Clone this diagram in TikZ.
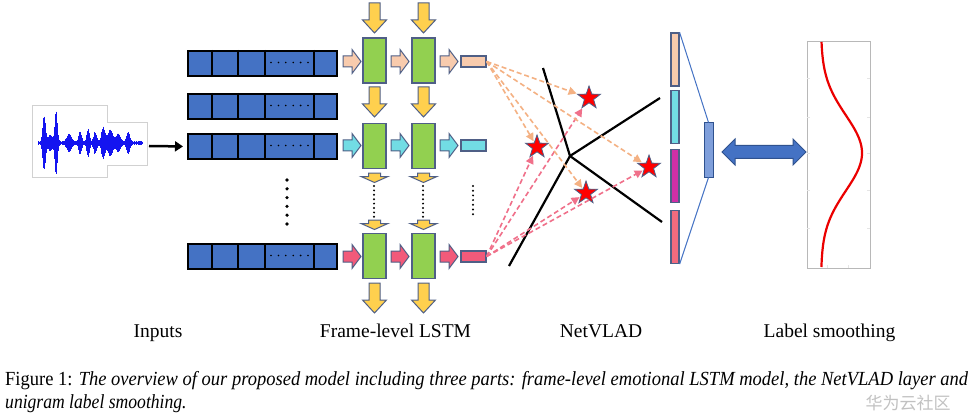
\documentclass[tikz,border=0pt]{standalone}
\usepackage{fontspec}
\setmainfont{Liberation Serif}
\newfontfamily\cjk{Noto Sans CJK SC}
\usepackage{graphicx}
\usetikzlibrary{shapes.geometric,arrows.meta}
\definecolor{cellblue}{HTML}{4472C4}
\definecolor{greenc}{HTML}{92D050}
\definecolor{yel}{HTML}{FFD04E}
\definecolor{outl}{HTML}{4F5F86}
\definecolor{peach}{HTML}{F8CBAD}
\definecolor{peachd}{HTML}{F4B183}
\definecolor{cyanc}{HTML}{72DCE4}
\definecolor{pinkc}{HTML}{F25A7A}
\definecolor{pinkd}{HTML}{F0708A}
\definecolor{magc}{HTML}{D02FA6}
\definecolor{barpink}{HTML}{F26B7E}
\definecolor{wavec}{HTML}{1414F0}
\definecolor{sbarc}{HTML}{7F9FDB}
\definecolor{darkblue}{HTML}{2F528F}
\tikzset{
  gbox/.style={draw=outl, fill=greenc, line width=1.2pt, minimum width=23pt, minimum height=45pt, inner sep=0pt},
  orect/.style={draw=outl, line width=1.2pt, minimum width=25pt, minimum height=11pt, inner sep=0pt},
  blk/.style={draw=outl, line width=1pt, line join=miter},
  starn/.style={star, star points=5, star point ratio=2.5, minimum size=24pt, fill=red, draw=outl, line width=0.8pt, inner sep=0pt},
  dpeach/.style={draw=peachd, dash pattern=on 5pt off 3pt, line width=1.6pt, -{Triangle[length=8pt,width=8pt,fill=peachd]}, shorten >=1pt},
  dpink/.style={draw=pinkd, dash pattern=on 5pt off 3pt, line width=1.6pt, -{Triangle[length=8pt,width=8pt,fill=pinkd]}, shorten >=1pt},
  barn/.style={draw=outl, line width=1.2pt, minimum width=8pt, minimum height=53pt, inner sep=0pt},
  lab/.style={anchor=base, inner sep=0pt, font=\fontsize{19.5}{22}\selectfont},
  declare function={gs(\t,\c,\w)=exp(-min(((\t-\c)/\w)^2,30));}
}
\newcommand{\rarr}[3]{\draw[blk, fill=#1] (#2,#3-5.5) -- ++(9,0) -- ++(0,-6.5) -- ++(9,12) -- ++(-9,12) -- ++(0,-6.5) -- ++(-9,0) -- cycle;}
\newcommand{\darr}[2]{\draw[blk, fill=yel] (#1-5.5,#2) -- (#1+5.5,#2) -- (#1+5.5,#2+17) -- (#1+12,#2+17) -- (#1,#2+30) -- (#1-12,#2+17) -- (#1-5.5,#2+17) -- cycle;}
\newcommand{\sarr}[2]{\draw[blk, fill=yel] (#1-6,#2) -- (#1+6,#2) -- (#1+6,#2+3.5) -- (#1+13.5,#2+3.5) -- (#1,#2+9.5) -- (#1-13.5,#2+3.5) -- (#1-6,#2+3.5) -- cycle;}
\begin{document}
\begin{tikzpicture}[x=1pt,y=-1pt]
\fill[white] (0,0) rectangle (973,414);
\useasboundingbox (0,0) rectangle (973,414);
% waveform
\draw[black!18, line width=0.8pt] (32,105) -- (107,105) -- (107,122) -- (147,122) -- (147,165) -- (107,165) -- (107,177) -- (32,177) -- cycle;
\pgfmathsetseed{7}
\foreach \x in {38,38.5,...,142} {
  \pgfmathsetmacro\a{1.6 + 28*gs(\x,44,1.8) + 30*gs(\x,56,1.7) + 7*gs(\x,50,3.5) + 8*gs(\x,69,3) + 10*gs(\x,80,2) + 14*gs(\x,88,1.8) + 10*gs(\x,95,2.2) + 16*gs(\x,103,2.2) + 12*gs(\x,110,3.8) + 9*gs(\x,118,2.8) + 10*gs(\x,128,2.2)}
  \pgfmathsetmacro\b{\a*(0.8+0.2*rnd)}
  \draw[wavec, line width=0.9pt] (\x,143-\b) -- (\x,143+\b);
}
\coordinate (wv) at (149,146);
% input rows
\foreach \n/\y in {1/50,2/93,3/133,4/243} {
  \node[draw=black, line width=2pt, fill=cellblue, minimum width=149pt, minimum height=25pt, inner sep=0pt, anchor=north west] (in\n) at (187,\y) {};
  \foreach \xx in {212,238,265,314} \draw[line width=2pt] (\xx,\y) -- (\xx,\y+25);
  \foreach \k in {0,...,5} \fill (271+\k*7.4,\y+12.5) circle (0.9pt);
}
\foreach \k in {0,...,5} \fill (287,180+\k*8.8) circle (1.8pt);
\draw[line width=2.5pt, -{Triangle[length=8pt,width=10pt]}, shorten >=4pt] (wv) -- (in3.west);
% LSTM
\foreach \r/\y in {1/60.5,2/146,3/256} {
  \node[gbox] (g1\r) at (374.5,\y) {};
  \node[gbox] (g2\r) at (423.5,\y) {};
}
\node[orect, fill=peach] (o1) at (473.5,61.5) {};
\node[orect, fill=cyanc] (o2) at (473.5,145.5) {};
\node[orect, fill=pinkc] (o3) at (473.5,256.5) {};
\foreach \xs in {343,391,440} {
  \rarr{peach}{\xs}{61.5}
  \rarr{cyanc}{\xs}{145.5}
  \rarr{pinkc}{\xs}{256.5}
}
\foreach \cx in {374.5,423.5} {
  \darr{\cx}{3}
  \darr{\cx}{87}
  \darr{\cx}{283}
  \sarr{\cx}{173}
  \sarr{\cx}{220}
  \foreach \k in {0,...,7} \fill (\cx-0.5,186+\k*4.4) circle (1.1pt);
}
\foreach \k in {0,...,6} \fill (473,186+\k*4.7) circle (1.1pt);
% NetVLAD
\coordinate (c) at (570,156);
\coordinate (l1) at (543,68);
\coordinate (l2) at (660,98);
\coordinate (l3) at (662,222);
\coordinate (l4) at (509,266);
\foreach \l in {l1,l2,l3,l4} \draw[line width=2.2pt] (c) -- (\l);
\node[starn] (s1) at (589,98) {};
\node[starn] (s2) at (537,147) {};
\node[starn] (s3) at (586,193) {};
\node[starn] (s4) at (649,167) {};
\foreach \s in {1,...,4} {
  \draw[dpeach] (o1.east) -- (s\s);
  \draw[dpink] (o3.east) -- (s\s);
}
\node[barn, fill=peach] (b1) at (675,59.5) {};
\node[barn, fill=cyanc] (b2) at (675,117) {};
\node[barn, fill=magc] (b3) at (675,176) {};
\node[barn, fill=barpink] (b4) at (675,237) {};
\node[draw=darkblue, fill=sbarc, line width=1pt, minimum width=9pt, minimum height=54pt, inner sep=0pt] (sb) at (708.5,150) {};
\draw[cellblue, line width=1pt] (b1.north east) -- (sb.north);
\draw[cellblue, line width=1pt] (b4.south east) -- (sb.south);
% double arrow
\draw[fill=cellblue, draw=darkblue, line width=1pt] (722,152) -- (735,139) -- (735,145.5) -- (793,145.5) -- (793,139) -- (806,152) -- (793,165) -- (793,158.5) -- (735,158.5) -- (735,165) -- cycle;
% label smoothing plot
\node[draw=black!28, line width=1pt, minimum width=63pt, minimum height=227pt, inner sep=0pt, anchor=north west] (plot) at (807,41) {};
\foreach \ty in {78,117,153,190,228} {
  \draw[black!10, line width=0.6pt] (867,\ty) -- (870,\ty);
  \draw[black!10, line width=0.6pt] (807,\ty) -- (810,\ty);
}
\foreach \tx in {827,848} \draw[black!10, line width=0.6pt] (\tx,265) -- (\tx,268);
\draw[red!92!black, line width=2.2pt] plot[domain=42:267, samples=90, smooth] ({821+41*exp(-((\x-153)^2)/2842)}, \x);
% labels
\node[lab] (t1) at (158,337) {Inputs};
\node[lab] (t2) at (395.5,337) {Frame-level LSTM};
\node[lab] (t3) at (601,337) {NetVLAD};
\node[lab] (t4) at (829.5,337) {Label smoothing};
% caption
\node[anchor=base west, inner sep=0pt] (cap1) at (5,385) {\resizebox{963pt}{\height}{\fontsize{20}{24}\selectfont Figure 1: \textit{The overview of our proposed model including three parts: frame-level emotional LSTM model, the NetVLAD layer and}}};
\node[anchor=base west, inner sep=0pt] (cap2) at (5,408) {\scalebox{0.88}[1]{\fontsize{20}{24}\selectfont\itshape unigram label smoothing.}};
\node[text=black!40, text opacity=0.6, inner sep=0pt, font=\cjk\fontsize{17}{18}\selectfont] (wm) at (908,403) {华为云社区};
\end{tikzpicture}
\end{document}
